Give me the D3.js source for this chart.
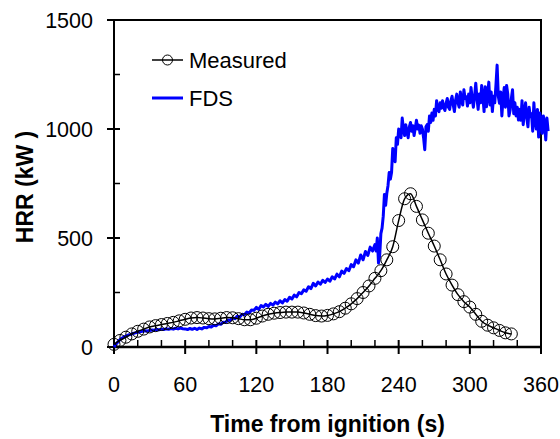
<!DOCTYPE html>
<html>
<head>
  <meta charset="utf-8">
  <script src="https://d3js.org/d3.v7.min.js"></script>
  <style>
    body { margin: 0; background: #fff; }
    text { font-family: "Liberation Sans", Arial, sans-serif; fill: #000; }
    .tick-label { font-size: 21.5px; }
    .title { font-size: 23px; font-weight: bold; }
    .legend { font-size: 22px; }
  </style>
</head>
<body>
  <svg width="560" height="439"></svg>
  <script>
    // measured HRR, one reading every 5 s
    const measuredTime = d3.range(0, 340, 5)
    const measuredHRR = [
      12, 30, 45, 60, 72, 82, 92, 98, 103, 108,
      113, 120, 127, 133, 135, 133, 130, 129, 132, 135,
      134, 130, 125, 125, 132, 142, 150, 155, 158, 160,
      160, 160, 156, 150, 144, 142, 145, 152, 162, 178,
      198, 222, 250, 280, 315, 350, 400, 460, 580, 680,
      703, 645, 583, 522, 463, 400, 335, 284, 240, 208,
      183, 150, 118, 100, 88, 76, 65, 60
    ]

    // FDS output: every 2 s up to 218 s, then every 1 s
    const fdsTime = d3.range(0, 220, 2).concat(d3.range(220, 367, 1))
    const fdsHRR = [
      0, 15, 28, 38, 45, 50, 55, 58, 62, 65,
      68, 70, 72, 74, 73, 76, 78, 77, 80, 79,
      82, 80, 84, 81, 85, 82, 86, 83, 87, 84,
      83, 80, 85, 81, 86, 80, 87, 83, 90, 88,
      94, 92, 100, 97, 106, 104, 114, 112, 124, 122,
      133, 130, 142, 138, 150, 148, 160, 156, 170, 168,
      182, 172, 190, 184, 196, 186, 200, 192, 206, 198,
      212, 202, 218, 210, 228, 220, 238, 230, 250, 244,
      262, 256, 276, 268, 292, 280, 298, 288, 306, 296,
      312, 302, 322, 312, 334, 322, 348, 338, 360, 350,
      378, 368, 400, 385, 422, 400, 438, 420, 458, 440,
      470, 440, 500, 385, 420, 520, 545, 600, 700, 650,
      705, 740, 800, 770, 800, 910, 880, 850, 960, 930,
      1000,
      995, 960, 1050, 1000, 970, 1020, 985, 960, 1010, 1030,
      990, 1015, 970, 1005, 1040, 1000, 1018, 980, 1015, 1000,
      960, 905, 1010, 1020, 990, 1060, 1030, 1073, 1040, 1090,
      1060, 1130, 1090, 1080, 1120, 1095, 1130, 1100, 1085, 1118,
      1140, 1100, 1090, 1130, 1150, 1110, 1080, 1133, 1160, 1120,
      1100, 1170, 1130, 1110, 1180, 1140, 1148, 1105, 1160, 1120,
      1190, 1140, 1100, 1150, 1210, 1142, 1090, 1160, 1120, 1200,
      1150, 1080, 1194, 1102, 1160, 1215, 1110, 1170, 1080, 1150,
      1120, 1200, 1293, 1150, 1118, 1170, 1060, 1140, 1190, 1100,
      1200, 1160, 1060, 1087, 1140, 1180, 1070, 1120, 1060, 1100,
      1041, 1090, 1040, 1130, 1020, 1080, 1120, 1050, 1010, 1100,
      1056, 1070, 990, 1120, 1040, 1000, 1090, 963, 1073, 1040,
      980, 1060, 1027, 950, 1050, 990
    ]

    const xTicks = [0, 60, 120, 180, 240, 300, 360]
    const yTicks = [0, 500, 1000, 1500]

    const svg = d3.select("svg")
    const x = d3.scaleLinear().domain([0, 360]).range([114, 541])
    const y = d3.scaleLinear().domain([0, 1500]).range([347, 20])

    // frame: top and right edges
    svg.append("path")
      .attr("d", `M${x(0) - 7},${y(1500)}H${x(360)}V${y(0)}`)
      .attr("fill", "none").attr("stroke", "#000").attr("stroke-width", 2)

    // x axis
    const xAxis = svg.append("g").attr("transform", `translate(0,${y(0)})`)
    xAxis.append("line").attr("x1", x(0)).attr("x2", x(360))
      .attr("stroke", "#000").attr("stroke-width", 2.5)
    xAxis.selectAll(".minor").data(d3.range(0, 361, 20).filter(d => d % 60))
      .join("line")
      .attr("x1", d => x(d)).attr("x2", d => x(d))
      .attr("y1", 0).attr("y2", -7)
      .attr("stroke", "#000").attr("stroke-width", 1.5)
    xAxis.selectAll(".major").data(xTicks)
      .join("line")
      .attr("x1", d => x(d)).attr("x2", d => x(d))
      .attr("y1", -7).attr("y2", 7)
      .attr("stroke", "#000").attr("stroke-width", 2)
    xAxis.selectAll("text").data(xTicks)
      .join("text")
      .attr("class", "tick-label")
      .attr("x", d => x(d)).attr("y", 45)
      .attr("text-anchor", "middle")
      .text(d => d)

    // y axis
    const yAxis = svg.append("g").attr("transform", `translate(${x(0)},0)`)
    yAxis.append("line").attr("y1", y(0) + 7).attr("y2", y(1500))
      .attr("stroke", "#000").attr("stroke-width", 2)
    yAxis.selectAll(".minor").data([250, 750, 1250])
      .join("line")
      .attr("y1", d => y(d)).attr("y2", d => y(d))
      .attr("x1", 0).attr("x2", 6)
      .attr("stroke", "#000").attr("stroke-width", 1.5)
    yAxis.selectAll(".major").data(yTicks)
      .join("line")
      .attr("y1", d => y(d)).attr("y2", d => y(d))
      .attr("x1", -7).attr("x2", 6)
      .attr("stroke", "#000").attr("stroke-width", 2)
    yAxis.selectAll("text").data(yTicks)
      .join("text")
      .attr("class", "tick-label")
      .attr("x", -21).attr("y", d => y(d))
      .attr("dy", "0.36em")
      .attr("text-anchor", "end")
      .text(d => d)

    // titles
    svg.append("text").attr("class", "title")
      .attr("x", (x(0) + x(360)) / 2).attr("y", 432)
      .attr("text-anchor", "middle")
      .text("Time from ignition (s)")
    svg.append("text").attr("class", "title")
      .attr("transform", "translate(33,187) rotate(-90)")
      .attr("text-anchor", "middle")
      .text("HRR (kW )")

    // FDS line
    const fdsLine = d3.line()
      .x((d, i) => x(fdsTime[i]))
      .y(d => y(d))
    svg.append("path")
      .datum(fdsHRR)
      .attr("d", fdsLine)
      .attr("fill", "none")
      .attr("stroke", "#0000ff")
      .attr("stroke-width", 3)
      .attr("stroke-linejoin", "round")

    // measured line and circles
    const measLine = d3.line()
      .x((d, i) => x(measuredTime[i]))
      .y(d => y(d))
      .curve(d3.curveMonotoneX)
    svg.append("path")
      .datum(measuredHRR)
      .attr("d", measLine)
      .attr("fill", "none")
      .attr("stroke", "#000")
      .attr("stroke-width", 1.5)
    svg.append("g").selectAll("circle")
      .data(measuredHRR)
      .join("circle")
      .attr("cx", (d, i) => x(measuredTime[i]))
      .attr("cy", d => y(d))
      .attr("r", 6)
      .attr("fill", "none")
      .attr("stroke", "#000")
      .attr("stroke-width", 1)

    // legend
    const legend = svg.append("g")
    legend.append("line").attr("x1", 152).attr("x2", 183).attr("y1", 60).attr("y2", 60)
      .attr("stroke", "#000").attr("stroke-width", 1.5)
    legend.append("circle").attr("cx", 167.5).attr("cy", 60).attr("r", 5)
      .attr("fill", "none").attr("stroke", "#000")
    legend.append("text").attr("class", "legend").attr("x", 189).attr("y", 67.5).text("Measured")
    legend.append("line").attr("x1", 152).attr("x2", 183).attr("y1", 98).attr("y2", 98)
      .attr("stroke", "#0000ff").attr("stroke-width", 3)
    legend.append("text").attr("class", "legend").attr("x", 189).attr("y", 105.5).text("FDS")
  </script>
</body>
</html>
